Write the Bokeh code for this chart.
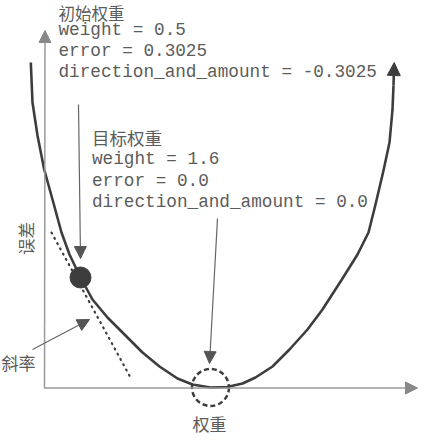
from math import pi
from bokeh.plotting import figure
from bokeh.models import Range1d, Label, Arrow, NormalHead
from bokeh.embed import file_html
from bokeh.resources import INLINE

# ---- data ----
curve_weight = [0.0795, 0.0938, 0.1361, 0.1928, 0.2631, 0.3392, 0.4069, 0.5, 0.6015,
                0.7285, 0.8808, 1.0246, 1.1685, 1.3208, 1.4477, 1.6, 1.74, 1.8708,
                1.9808, 2.1246, 2.2685, 2.4208, 2.5477, 2.717, 2.8439, 2.937, 2.9962,
                3.0639, 3.1147, 3.1401, 3.1485]
curve_error = [0.8937, 0.7837, 0.693, 0.5995, 0.517, 0.4262, 0.3657, 0.3025, 0.242,
               0.1925, 0.143, 0.0962, 0.0577, 0.0247, 0.0083, 0.0, 0.0014, 0.011,
               0.0275, 0.0577, 0.1045, 0.1595, 0.2145, 0.2997, 0.3657, 0.4262, 0.5032,
               0.5967, 0.6737, 0.7645, 0.8305]
curve_tip = (3.1544, 0.8937)

start_weight = 0.5
start_error = 0.3025
start_direction = -0.3025
goal_weight = 1.6
goal_error = 0.0
goal_direction = 0.0

tangent_weight = [0.2546, 0.923]
tangent_error = [0.426, 0.0275]

start_title = "初始权重"
goal_title = "目标权重"
x_label = "权重"
y_label = "误差"
slope_label = "斜率"

# ---- pixel helpers (window pixel -> data); the canvas starts at (8, 8) ----
def wx(ix):
    return 0.5 + (ix - 88) / 118.18

def ey(iy):
    return (395 - iy) / 363.64

TEXT = "#5c5c5c"
DARK = "#3d3d3d"
AXIS = "#9a9a9a"
ARROW = "#666666"

p = figure(width=420, height=440, x_range=Range1d(wx(8), wx(428)), y_range=Range1d(ey(448), ey(8)),
           output_backend="svg", toolbar_location=None, min_border=0,
           x_axis_location=None, y_axis_location=None, outline_line_color=None)
p.grid.visible = False
p.background_fill_color = "white"
p.border_fill_color = "white"

# axes as arrows
p.add_layout(Arrow(x_start=wx(52), y_start=ey(396), x_end=wx(52.5), y_end=ey(38),
                   line_color=AXIS, line_width=1.5,
                   end=NormalHead(size=12, fill_color="#888888", line_color="#888888")))
p.add_layout(Arrow(x_start=wx(52), y_start=ey(395.5), x_end=wx(425), y_end=ey(395.5),
                   line_color=AXIS, line_width=1.5,
                   end=NormalHead(size=12, fill_color="#888888", line_color="#888888")))

# tangent (dotted)
p.line(tangent_weight, tangent_error, line_color=DARK, line_width=2.2, line_dash="1 5",
       line_cap="round")

# error curve
p.line(curve_weight, curve_error, line_color=DARK, line_width=2.6, line_join="round")
p.add_layout(Arrow(x_start=curve_weight[-1], y_start=curve_error[-1],
                   x_end=curve_tip[0], y_end=curve_tip[1],
                   line_color=DARK, line_width=2.6,
                   end=NormalHead(size=13, fill_color=DARK, line_color=DARK)))

# start point & goal circle
p.scatter([start_weight], [start_error], size=21, fill_color=DARK, line_color=DARK)
p.scatter([goal_weight], [goal_error], size=37, fill_alpha=0, line_color=DARK,
          line_width=2.5, line_dash="5 3")

# pointer arrows
p.add_layout(Arrow(x_start=wx(86), y_start=ey(112), x_end=wx(88), y_end=ey(266),
                   line_color=ARROW, line_width=1.2,
                   end=NormalHead(size=12, fill_color="#555555", line_color="#555555")))
p.add_layout(Arrow(x_start=wx(225), y_start=ey(226), x_end=wx(217), y_end=ey(371),
                   line_color=ARROW, line_width=1.2,
                   end=NormalHead(size=12, fill_color="#555555", line_color="#555555")))
p.add_layout(Arrow(x_start=wx(40), y_start=ey(357), x_end=wx(97), y_end=ey(327),
                   line_color=ARROW, line_width=1.2,
                   end=NormalHead(size=12, fill_color="#555555", line_color="#555555")))

CJK = "Noto Sans CJK SC"
MONO = "Liberation Mono"

def label(x, y, text, font, size, align="left", angle=0.0):
    p.add_layout(Label(x=x, y=y, text=text, text_font=font, text_font_size=size,
                       text_color=TEXT, text_align=align, text_baseline="middle",
                       angle=angle))

# start block
label(wx(66), ey(20), start_title, CJK, "16.5px")
label(wx(66), ey(37.5), f"weight = {start_weight}", MONO, "17.7px")
label(wx(66), ey(58), f"error = {start_error}", MONO, "17.7px")
label(wx(66), ey(79), f"direction_and_amount = {start_direction}", MONO, "17.7px")

# goal block
label(wx(99.5), ey(145), goal_title, CJK, "17.5px")
label(wx(99.5), ey(166), f"weight = {goal_weight}", MONO, "17.7px")
label(wx(99.5), ey(188), f"error = {goal_error}", MONO, "17.7px")
label(wx(99.5), ey(209.5), f"direction_and_amount = {goal_direction}", MONO, "17.7px")

# axis / annotation labels
label(wx(217), ey(431), x_label, CJK, "17px", align="center")
label(wx(33), ey(246), y_label, CJK, "16.5px", align="center", angle=pi / 2)
label(wx(9), ey(370), slope_label, CJK, "17px")

open("out.html", "w").write(file_html(p, INLINE))
